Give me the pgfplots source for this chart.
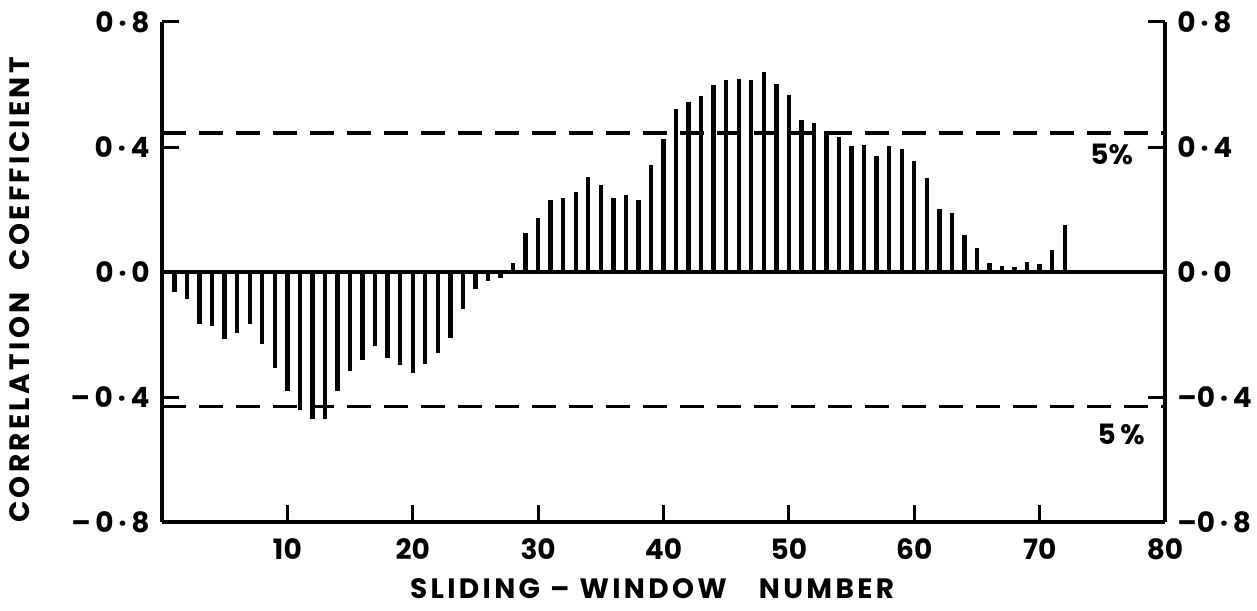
\documentclass[border=0pt]{standalone}
\usepackage{pgfplots}
\pgfplotsset{compat=1.18}
\usepackage{fontspec}
\setmainfont{Poppins}
\newfontfamily\labfont[LetterSpace=12]{Poppins}
\pgfplotstableread{
x y
1 -0.065
2 -0.086
3 -0.167
4 -0.172
5 -0.215
6 -0.194
7 -0.165
8 -0.231
9 -0.306
10 -0.380
11 -0.440
12 -0.470
13 -0.470
14 -0.382
15 -0.317
16 -0.280
17 -0.236
18 -0.274
19 -0.296
20 -0.323
21 -0.294
22 -0.260
23 -0.210
24 -0.118
25 -0.054
26 -0.028
27 -0.019
28 0.029
29 0.126
30 0.172
31 0.231
32 0.236
33 0.255
34 0.303
35 0.280
36 0.236
37 0.247
38 0.231
39 0.344
40 0.425
41 0.521
42 0.545
43 0.562
44 0.600
45 0.613
46 0.618
47 0.614
48 0.640
49 0.603
50 0.565
51 0.485
52 0.478
53 0.452
54 0.431
55 0.404
56 0.406
57 0.372
58 0.403
59 0.394
60 0.355
61 0.302
62 0.202
63 0.190
64 0.117
65 0.076
66 0.029
67 0.018
68 0.016
69 0.032
70 0.027
71 0.070
72 0.150
}\datatable
\pgfplotstableread{
x y
0 0.445
80 0.445
}\upperlim
\pgfplotstableread{
x y
0 -0.43
80 -0.43
}\lowerlim
\pgfplotstableread{
x y
0 0
80 0
}\zeroline
\begin{document}
\begin{tikzpicture}
\pgfplotsset{
  common/.style={
    width=501.5pt, height=250pt, scale only axis,
    xmin=0, xmax=80, ymin=-0.8, ymax=0.8,
    ytick={-0.8,-0.4,0,0.4,0.8},
    tick align=inside,
    major tick length=8.5pt,
    tick style={black, line width=1.5pt},
    axis line style={black, line width=1.6pt},
    tick label style={font=\bfseries\fontsize{14}{16}\selectfont, inner sep=0pt},
    clip=false,
  }
}
\begin{axis}[common,
  axis x line*=bottom, axis y line*=left,
  xtick={10,20,30,40,50,60,70,80},
  xticklabels={10,20,30,40,50,60,70,80},
  yticklabels={–\,0\,·\,8,–\,0\,·\,4,0\,·\,0,0\,·\,4,0\,·\,8},
  yticklabel style={xshift=-6pt},
  xticklabel style={yshift=-8pt},
  xlabel={\labfont\bfseries\fontsize{14}{16}\selectfont SLIDING\hspace{5pt}–\hspace{5pt}WINDOW\hspace{16pt}NUMBER},
  xlabel style={at={(axis description cs:0.4886,-0.133)}, anchor=center, inner sep=0pt},
  ylabel={\labfont\bfseries\fontsize{14}{16}\selectfont CORRELATION\hspace{11pt}COEFFICIENT},
  ylabel style={at={(axis description cs:-0.1416,0.464)}, anchor=center, inner sep=0pt},
]
\addplot[black, line width=1.7pt] table[x=x,y=y]{\zeroline};
\addplot[black, line width=1.7pt, dash pattern=on 12pt off 6.5pt] table[x=x,y=y]{\upperlim};
\addplot[black, line width=1.7pt, dash pattern=on 12pt off 6.5pt] table[x=x,y=y]{\lowerlim};
\addplot[ycomb, black, line width=2.2pt, mark=none] table[x=x,y=y]{\datatable};
\node[font=\bfseries\fontsize{14}{16}\selectfont, anchor=center] at (axis cs:75.75,0.375) {5\%};
\node[font=\bfseries\fontsize{14}{16}\selectfont, anchor=center] at (axis cs:76.5,-0.52) {5\,\%};
\coordinate (bbl) at (rel axis cs:-0.1615,-0.176);
\coordinate (btr) at (rel axis cs:1.0917,1.044);
\end{axis}
\begin{axis}[common,
  axis x line=none, axis y line*=right,
  yticklabels={–0\,·\,8,–0\,·\,4,0\,·\,0,0\,·\,4,0\,·\,8},
  yticklabel style={xshift=6pt},
]
\end{axis}
\pgfresetboundingbox
\path[use as bounding box] (bbl) rectangle (btr);
\end{tikzpicture}
\end{document}
